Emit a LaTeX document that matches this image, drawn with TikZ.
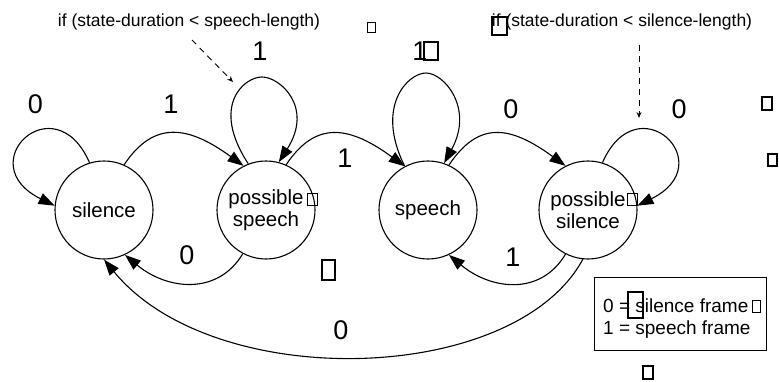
\documentclass[tikz,border=0pt]{standalone}
\usepackage{fontspec}
\setmainfont{Liberation Sans}
\usetikzlibrary{arrows.meta}
\begin{document}
\begin{tikzpicture}[x=1pt,y=1pt,
  state/.style={draw, circle, line width=1.1pt, minimum size=98pt, inner sep=0pt,
    align=center, font=\fontsize{20.5}{22.5}\selectfont},
  trans/.style={line width=1.1pt, -{Triangle[length=16pt,width=11.5pt]}},
  hint/.style={line width=0.9pt, dash pattern=on 6pt off 5pt, -{Stealth[length=6pt,width=5pt]}},
  lbl/.style={inner sep=0pt, font=\fontsize{27}{29}\selectfont},
  note/.style={inner sep=0pt, anchor=base, font=\fontsize{17.5}{20}\selectfont},
  keytext/.style={inner sep=0pt, anchor=base west, font=\fontsize{19}{22}\selectfont},
  gbox/.style={draw, line width=#1},
  gbox/.default=1pt]
\useasboundingbox (0,0) rectangle (779,381);

% states
\node[state] (sil) at (104,171) {silence};
\node[state] (ps)  at (266,171) {possible\\speech};
\node[state] (sp)  at (428,171) {speech};
\node[state] (psl) at (588,171) {possible\\silence};

% tops of the upright self loops
\coordinate (psTop) at (262,304);
\coordinate (spTop) at (426,308);

% self loops
\draw[trans] (sil.107) .. controls +(-35,80) and +(-85,42) .. (sil.175);
\draw[trans] (ps.111) .. controls +(-38,58) and +(-18,0) .. (psTop)
                      .. controls +(18,0) and +(35,55) .. (ps.75);
\draw[trans] (sp.118) .. controls +(-30,60) and +(-18,0) .. (spTop)
                      .. controls +(18,0) and +(30,55) .. (sp.71);
\draw[trans] (psl.73) .. controls +(35,80) and +(85,42) .. (psl.5);

% forward transitions
\draw[trans] (sil.66) .. controls +(30,45) and +(-55,40) .. (ps.117);
\draw[trans] (ps.66) .. controls +(30,45) and +(-55,40) .. (sp.118);
\draw[trans] (sp.65) .. controls +(30,45) and +(-55,40) .. (psl.117);

% backward transitions
\draw[trans] (ps.242) .. controls +(-25,-42) and +(42,-35) .. (sil.295);
\draw[trans] (psl.243) .. controls +(-25,-42) and +(42,-35) .. (sp.295);
\draw[trans] (psl.264) .. controls +(-68,-126) and +(110,-134) .. (sil.270);

% transition labels
\node[lbl] (l1) at (35.5,277) {0};
\node[lbl] (l2) at (171,277) {1};
\node[lbl] (l3) at (260,330) {1};
\node[lbl] (l4) at (420,330) {1};
\node[lbl] (l5) at (345,223) {1};
\node[lbl] (l6) at (511,272) {0};
\node[lbl] (l7) at (679,272) {0};
\node[lbl] (l8) at (187,126) {0};
\node[lbl] (l9) at (513,124) {1};
\node[lbl] (l10) at (341,51) {0};

% conditions
\node[note] (c1) at (189,354) {if (state-duration < speech-length)};
\node[note] (c2) at (622,354) {if (state-duration < silence-length)};
\coordinate (c1s) at (192,341);
\coordinate (c1e) at (233,299);
\coordinate (c2s) at (639,336);
\coordinate (c2e) at (639,263);
\draw[hint] (c1s) -- (c1e);
\draw[hint] (c2s) -- (c2e);

% key
\node[draw, line width=1pt, minimum width=172pt, minimum height=73pt, inner sep=0pt] (key) at (680,67.5) {};
\node[keytext] (k0) at (603,69) {0 = silence frame};
\node[keytext] (k1) at (603,47) {1 = speech frame};

% placeholder glyph boxes
\draw[gbox=0.8pt] (367,349) rectangle (375,359);
\draw[gbox=1.8pt] (492,346) rectangle (507,364);
\draw[gbox=1.8pt] (424,321) rectangle (438,339);
\draw[gbox=1.2pt] (762,271) rectangle (772,284);
\draw[gbox=1.2pt] (768,215) rectangle (777,227);
\draw[gbox=1pt] (307,176) rectangle (317,188);
\draw[gbox=1pt] (627,176) rectangle (637,188);
\draw[gbox=1.8pt] (322,101) rectangle (335,121);
\draw[gbox=2pt] (628,63) rectangle (643,89);
\draw[gbox=1pt] (752,69) rectangle (760,81);
\draw[gbox=1.5pt] (643,2) rectangle (653,15);
\end{tikzpicture}
\end{document}
